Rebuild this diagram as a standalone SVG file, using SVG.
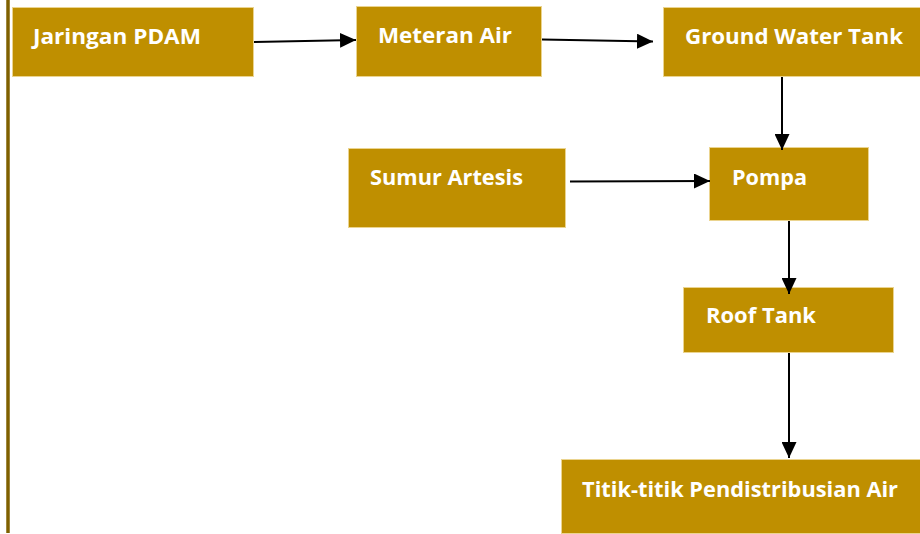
<svg xmlns="http://www.w3.org/2000/svg" width="920" height="534" viewBox="0 0 920 534">
<style>
.box{fill:#BF8F00;stroke:#EBD48F;stroke-width:1}
.lbl{font-family:"Open Sans","Liberation Sans",sans-serif;font-weight:bold;font-size:21px;fill:#FFFFFF}
.con{stroke:#000;stroke-width:2;fill:none;marker-end:url(#ah)}
</style>
<defs>
<marker id="ah" markerUnits="userSpaceOnUse" markerWidth="17" markerHeight="15" refX="16" refY="7.5" orient="auto">
<path d="M0,0 L16,7.5 L0,15 Z" fill="#000"/>
</marker>
</defs>
<rect width="920" height="534" fill="#fff"/>
<line x1="8" y1="0" x2="8" y2="533" stroke="#7F6000" stroke-width="3.5"/>
<g id="jaringan-pdam"><rect class="box" x="12.5" y="7.5" width="241" height="69"/><text class="lbl" x="33" y="44" textLength="168" lengthAdjust="spacingAndGlyphs">Jaringan PDAM</text></g>
<g id="meteran-air"><rect class="box" x="356.5" y="6.5" width="185" height="70"/><text class="lbl" x="378" y="43" textLength="134" lengthAdjust="spacingAndGlyphs">Meteran Air</text></g>
<g id="ground-water-tank"><rect class="box" x="663.5" y="7.5" width="262" height="69"/><text class="lbl" x="685" y="44" textLength="218" lengthAdjust="spacingAndGlyphs">Ground Water Tank</text></g>
<g id="sumur-artesis"><rect class="box" x="348.5" y="148.5" width="217" height="79"/><text class="lbl" x="370" y="185" textLength="153" lengthAdjust="spacingAndGlyphs">Sumur Artesis</text></g>
<g id="pompa"><rect class="box" x="709.5" y="147.5" width="159" height="73"/><text class="lbl" x="732" y="185" textLength="75" lengthAdjust="spacingAndGlyphs">Pompa</text></g>
<g id="roof-tank"><rect class="box" x="683.5" y="287.5" width="210" height="65"/><text class="lbl" x="706" y="323" textLength="110" lengthAdjust="spacingAndGlyphs">Roof Tank</text></g>
<g id="titik-titik"><rect class="box" x="561.5" y="459.5" width="370" height="74"/><text class="lbl" x="582" y="497" textLength="316" lengthAdjust="spacingAndGlyphs">Titik-titik Pendistribusian Air</text></g>
<g id="connectors">
<line class="con" x1="254" y1="42" x2="356" y2="40"/>
<line class="con" x1="542" y1="39.5" x2="653" y2="41.5"/>
<line class="con" x1="782" y1="77" x2="782" y2="150"/>
<line class="con" x1="570" y1="181.5" x2="710" y2="181"/>
<line class="con" x1="789" y1="221" x2="789" y2="294"/>
<line class="con" x1="789" y1="353" x2="789" y2="458"/>
</g>
</svg>
